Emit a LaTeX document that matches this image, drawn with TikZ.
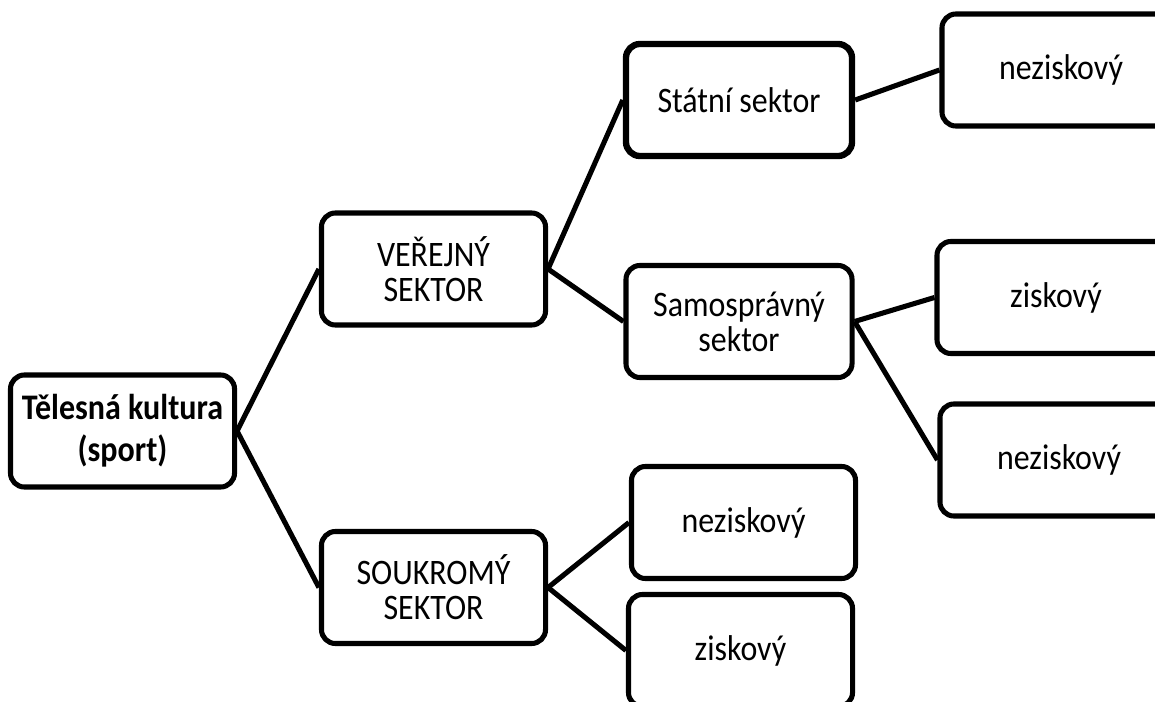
\documentclass[tikz,border=0pt]{standalone}
\usepackage{fontspec}
\setmainfont{Carlito}[FakeStretch=0.89]
\usepackage{tikz}

\begin{document}
\begin{tikzpicture}
          [x=0.025cm,y=-0.025cm,line width=3.6pt,
           every node/.style={draw,shape=rectangle,rounded corners=0.35cm,align=center,
             inner sep=0pt,minimum width=5.6cm,minimum height=2.8cm,
             font=\fontsize{25.5}{25}\selectfont}]

          \useasboundingbox (0,0) rectangle (1155,702);
          \clip (0,0) rectangle (1155,702);

          \node[font=\fontsize{25.6}{30}\selectfont\bfseries] (root) at (122.5,431) {Tělesná kultura\\(sport)};
          \node (ver) at (433.5,269) {VEŘEJNÝ\\SEKTOR};
          \node (sou) at (433.5,587.5) {SOUKROMÝ\\SEKTOR};
          \node[line width=4.5pt,minimum width=5.65cm] (stat) at (739,100) {Státní sektor};
          \node[minimum width=5.65cm] (samo) at (739,321.5) {Samosprávný\\sektor};
          \node[minimum width=5.95cm] (nez1) at (1061,70) {neziskový};
          \node[minimum width=5.95cm] (zis1) at (1056,297.5) {ziskový};
          \node[minimum width=5.95cm] (nez2) at (1059,460) {neziskový};
          \node (nez3) at (743.5,522.5) {neziskový};
          \node (zis2) at (740.5,650.5) {ziskový};

          \draw (root.east) -- (ver.west);
          \draw (root.east) -- (sou.west);
          \draw (ver.east) -- (stat.west);
          \draw (ver.east) -- (samo.west);
          \draw (sou.east) -- (nez3.west);
          \draw (sou.east) -- (zis2.west);
          \draw (stat.east) -- (nez1.west);
          \draw (samo.east) -- (zis1.west);
          \draw (samo.east) -- (nez2.west);
        \end{tikzpicture}
\end{document}
